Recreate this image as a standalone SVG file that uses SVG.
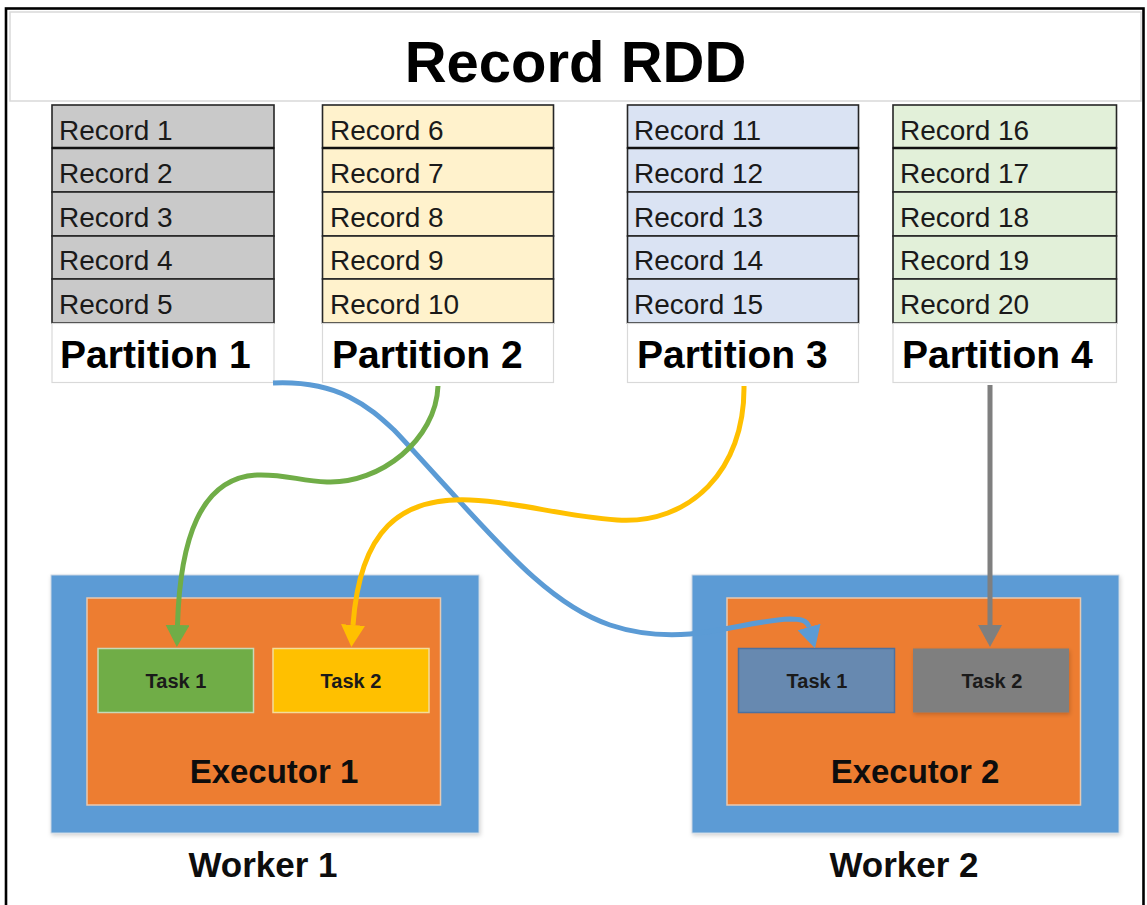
<svg xmlns="http://www.w3.org/2000/svg" width="1147" height="905" viewBox="0 0 1147 905">
<style>
.rec{font-family:"Liberation Sans",Arial,sans-serif;font-size:28px;fill:#1a1a1a}
.part{font-family:"Liberation Sans",Arial,sans-serif;font-size:39px;font-weight:bold;fill:#000}
.row{stroke:#262626;stroke-width:1.6}
.sep{stroke:#111;stroke-width:2.6}
.lbl{fill:#fff;stroke:#d9d9d9;stroke-width:1.2}
.task{font-family:"Liberation Sans",Arial,sans-serif;font-size:20px;font-weight:bold;fill:#1a1a1a;text-anchor:middle}
.big{font-family:"Liberation Sans",Arial,sans-serif;font-size:33px;font-weight:bold;fill:#0d0d0d;text-anchor:middle}
.wlabel{font-family:"Liberation Sans",Arial,sans-serif;font-size:35px;font-weight:bold;fill:#0d0d0d;text-anchor:middle}
.worker{fill:#5B9BD5;stroke:#c9d6e3;stroke-width:1}
.exec{fill:#ED7D31;stroke:#e8c9b0;stroke-width:1.5}
.conn{fill:none;stroke-width:5}
</style>
<defs>
<filter id="sh" x="-5%" y="-5%" width="110%" height="115%">
<feDropShadow dx="1" dy="2" stdDeviation="2" flood-color="#000" flood-opacity="0.18"/>
</filter>
<marker id="aG" markerUnits="userSpaceOnUse" markerWidth="22" markerHeight="24" viewBox="0 0 22 24" refX="0" refY="12" orient="auto"><path d="M0,0 L22,12 L0,24 z" fill="#70AD47"/></marker>
<marker id="aY" markerUnits="userSpaceOnUse" markerWidth="22" markerHeight="24" viewBox="0 0 22 24" refX="0" refY="12" orient="auto"><path d="M0,0 L22,12 L0,24 z" fill="#FFC000"/></marker>
<marker id="aB" markerUnits="userSpaceOnUse" markerWidth="22" markerHeight="24" viewBox="0 0 22 24" refX="0" refY="12" orient="auto"><path d="M0,0 L22,12 L0,24 z" fill="#5B9BD5"/></marker>
<marker id="aK" markerUnits="userSpaceOnUse" markerWidth="22" markerHeight="24" viewBox="0 0 22 24" refX="0" refY="12" orient="auto"><path d="M0,0 L22,12 L0,24 z" fill="#7F7F7F"/></marker>
</defs>

<rect x="0" y="0" width="1147" height="905" fill="#fff"/>
<rect x="6" y="8.5" width="1137.5" height="910" fill="none" stroke="#000" stroke-width="2.6"/>

<g id="title">
<rect x="10" y="12" width="1131" height="89" fill="#fff" stroke="#d9d9d9" stroke-width="1.5"/>
<text x="575.5" y="82" font-family="Liberation Sans, Arial, sans-serif" font-size="58" font-weight="bold" text-anchor="middle" fill="#000">Record RDD</text>
</g>

<g id="partition1">
<g fill="#C9C9C9" class="row">
<rect x="52" y="105" width="222" height="43"/>
<rect x="52" y="148" width="222" height="44"/>
<rect x="52" y="192" width="222" height="44"/>
<rect x="52" y="236" width="222" height="43"/>
<rect x="52" y="279" width="222" height="44"/>
</g>
<line class="sep" x1="52" y1="148" x2="274" y2="148"/>
<text class="rec" x="59" y="140">Record 1</text>
<text class="rec" x="59" y="183">Record 2</text>
<text class="rec" x="59" y="227">Record 3</text>
<text class="rec" x="59" y="270">Record 4</text>
<text class="rec" x="59" y="314">Record 5</text>
<rect class="lbl" x="52" y="323.5" width="222" height="59"/>
<text class="part" x="60" y="368">Partition 1</text>
</g>

<g id="partition2">
<g fill="#FFF2CC" class="row">
<rect x="322.5" y="105" width="231" height="43"/>
<rect x="322.5" y="148" width="231" height="44"/>
<rect x="322.5" y="192" width="231" height="44"/>
<rect x="322.5" y="236" width="231" height="43"/>
<rect x="322.5" y="279" width="231" height="44"/>
</g>
<line class="sep" x1="322.5" y1="148" x2="553.5" y2="148"/>
<text class="rec" x="330" y="140">Record 6</text>
<text class="rec" x="330" y="183">Record 7</text>
<text class="rec" x="330" y="227">Record 8</text>
<text class="rec" x="330" y="270">Record 9</text>
<text class="rec" x="330" y="314">Record 10</text>
<rect class="lbl" x="322.5" y="323.5" width="231" height="59"/>
<text class="part" x="332" y="368">Partition 2</text>
</g>

<g id="partition3">
<g fill="#DAE3F3" class="row">
<rect x="627.5" y="105" width="231" height="43"/>
<rect x="627.5" y="148" width="231" height="44"/>
<rect x="627.5" y="192" width="231" height="44"/>
<rect x="627.5" y="236" width="231" height="43"/>
<rect x="627.5" y="279" width="231" height="44"/>
</g>
<line class="sep" x1="627.5" y1="148" x2="858.5" y2="148"/>
<text class="rec" x="634" y="140">Record 11</text>
<text class="rec" x="634" y="183">Record 12</text>
<text class="rec" x="634" y="227">Record 13</text>
<text class="rec" x="634" y="270">Record 14</text>
<text class="rec" x="634" y="314">Record 15</text>
<rect class="lbl" x="627.5" y="323.5" width="231" height="59"/>
<text class="part" x="637" y="368">Partition 3</text>
</g>

<g id="partition4">
<g fill="#E2F0D9" class="row">
<rect x="893" y="105" width="223.5" height="43"/>
<rect x="893" y="148" width="223.5" height="44"/>
<rect x="893" y="192" width="223.5" height="44"/>
<rect x="893" y="236" width="223.5" height="43"/>
<rect x="893" y="279" width="223.5" height="44"/>
</g>
<line class="sep" x1="893" y1="148" x2="1116.5" y2="148"/>
<text class="rec" x="900" y="140">Record 16</text>
<text class="rec" x="900" y="183">Record 17</text>
<text class="rec" x="900" y="227">Record 18</text>
<text class="rec" x="900" y="270">Record 19</text>
<text class="rec" x="900" y="314">Record 20</text>
<rect class="lbl" x="893" y="323.5" width="223.5" height="59"/>
<text class="part" x="902" y="368">Partition 4</text>
</g>

<g id="worker1">
<rect class="worker" x="51" y="575" width="428" height="258" filter="url(#sh)"/>
<text class="wlabel" x="263" y="877">Worker 1</text>
</g>
<g id="executor1">
<rect class="exec" x="87" y="598" width="353.5" height="207"/>
<text class="big" x="274" y="783">Executor 1</text>
</g>
<g id="w1task1">
<rect x="98" y="648.5" width="155.5" height="64" fill="#70AD47" stroke="#c6d9b8" stroke-width="1.5"/>
<text class="task" x="176" y="688">Task 1</text>
</g>
<g id="w1task2">
<rect x="273" y="648.5" width="156" height="64" fill="#FFC000" stroke="#f3dc9a" stroke-width="1.5"/>
<text class="task" x="351" y="688">Task 2</text>
</g>

<g id="worker2">
<rect class="worker" x="692" y="575" width="427" height="258" filter="url(#sh)"/>
<text class="wlabel" x="904" y="877">Worker 2</text>
</g>
<g id="executor2">
<rect class="exec" x="727" y="598" width="353.5" height="207"/>
<text class="big" x="915" y="783">Executor 2</text>
</g>
<g id="w2task1">
<rect x="738.5" y="648.5" width="156" height="64" fill="#6789B0" stroke="#4d70a0" stroke-width="1.5"/>
<text class="task" x="817" y="688">Task 1</text>
</g>
<g id="w2task2">
<rect x="913" y="648.5" width="156" height="64" fill="#7F7F7F" filter="url(#sh)"/>
<text class="task" x="992" y="688">Task 2</text>
</g>

<g id="connectors">
<path class="conn" stroke="#5B9BD5" stroke-width="4.5" d="M273,383 C340,380 370,408 394,430 C395,431 420,458 440,480 C500,545 550,605 610,625 C640,635 665,636 690,634 C730,630 760,620 790,619 C800,619 807,620 809,627" marker-end="url(#aB)"/>
<path class="conn" stroke="#70AD47" d="M438,386 C436,440 380,484 327,482 C300,481 285,474 257,475 C200,478 180,540 177.5,625" marker-end="url(#aG)"/>
<path class="conn" stroke="#FFC000" d="M744,386 C745,470 690,525 617,520 C560,516 520,502 470,500 C400,497 360,530 353,625" marker-end="url(#aY)"/>
<path class="conn" stroke="#7F7F7F" d="M990,385 L990,625" marker-end="url(#aK)"/>
</g>
</svg>
